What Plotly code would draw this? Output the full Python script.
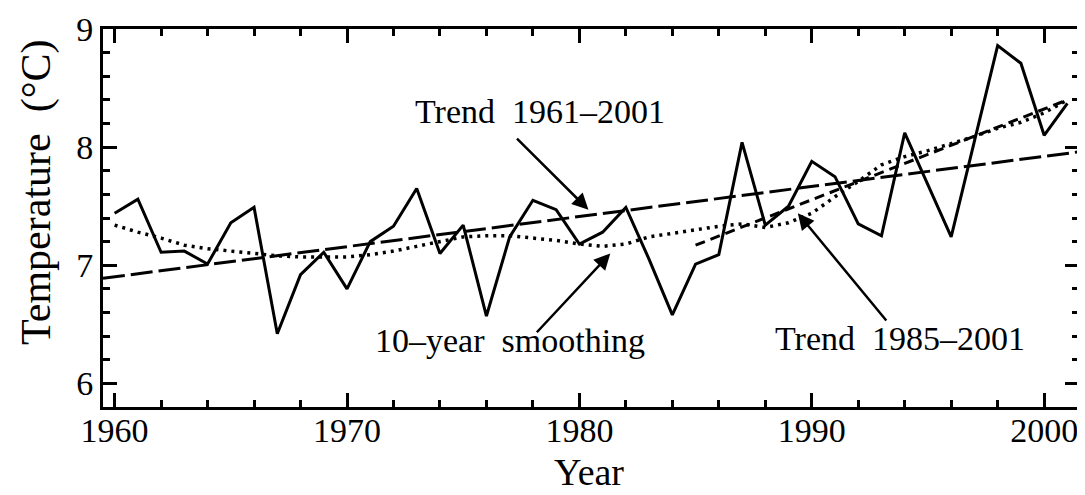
import plotly.graph_objects as go

years = list(range(1960, 2002))
temps = [7.44, 7.56, 7.11, 7.12, 7.01, 7.36, 7.49, 6.42, 6.92, 7.11,
         6.80, 7.20, 7.33, 7.65, 7.10, 7.34, 6.57, 7.24, 7.55, 7.47,
         7.18, 7.28, 7.49, 7.05, 6.58, 7.01, 7.09, 8.04, 7.34, 7.50,
         7.88, 7.75, 7.35, 7.25, 8.12, 7.68, 7.24, 8.05, 8.86, 8.71,
         8.10, 8.37]
smooth = [7.34, 7.28, 7.23, 7.17, 7.14, 7.12, 7.10, 7.08, 7.07, 7.07,
          7.07, 7.09, 7.12, 7.16, 7.20, 7.24, 7.25, 7.25, 7.23, 7.21,
          7.18, 7.16, 7.18, 7.24, 7.27, 7.30, 7.33, 7.35, 7.32, 7.36,
          7.44, 7.58, 7.71, 7.85, 7.92, 7.97, 8.03, 8.09, 8.16, 8.21,
          8.29, 8.40]
trend_long_years = [1959.5, 2001.5]
trend_long_vals = [6.89, 7.96]
trend_short_years = [1985, 2001]
trend_short_vals = [7.17, 8.40]

FONT = "Liberation Serif"

fig = go.Figure()
fig.add_trace(go.Scatter(x=trend_long_years, y=trend_long_vals, mode="lines",
                         line=dict(color="black", width=3, dash="22px,6px")))
fig.add_trace(go.Scatter(x=trend_short_years, y=trend_short_vals, mode="lines",
                         line=dict(color="black", width=3, dash="10px,6px")))
fig.add_trace(go.Scatter(x=years, y=smooth, mode="lines",
                         line=dict(color="black", width=3.5, dash="3px,5px")))
fig.add_trace(go.Scatter(x=years, y=temps, mode="lines",
                         line=dict(color="black", width=3)))

def arrow(x, y, ax, ay):
    fig.add_annotation(x=x, y=y, ax=ax, ay=ay, xref="x", yref="y",
                       axref="x", ayref="y", text="", showarrow=True,
                       arrowhead=2, arrowsize=1.3, arrowwidth=2.5,
                       arrowcolor="black")

arrow(1980.39, 7.47, 1977.25, 8.085)
arrow(1981.33, 7.10, 1978.11, 6.42)
arrow(1989.40, 7.44, 1993.26, 6.52)

def label(text, x, y):
    fig.add_annotation(x=x, y=y, xref="x", yref="y", text=text,
                       showarrow=False, font=dict(family=FONT, size=34, color="black"),
                       xanchor="center", yanchor="middle")

label("Trend\u00a0 1961–2001", 1978.3, 8.30)
label("10–year\u00a0 smoothing", 1977.0, 6.36)
label("Trend\u00a0 1985–2001", 1993.8, 6.38)

# axis titles placed as annotations
fig.add_annotation(x=-0.0684, y=0.567, xref="paper", yref="paper",
                   text="Temperature\u00a0 (°C)", textangle=-90, showarrow=False,
                   font=dict(family=FONT, size=42, color="black"),
                   xanchor="center", yanchor="middle")
fig.add_annotation(x=0.4975, y=-0.172, xref="paper", yref="paper",
                   text="Year", showarrow=False,
                   font=dict(family=FONT, size=38, color="black"),
                   xanchor="center", yanchor="middle")

axis_common = dict(showline=True, linewidth=3, linecolor="black", mirror="ticks",
                   ticks="inside", tickwidth=3, tickcolor="black", showgrid=False,
                   zeroline=False, tickfont=dict(family=FONT, size=34, color="black"))

fig.update_xaxes(range=[1959.5, 2001.5], tick0=1960, dtick=10, ticklen=14,
                 ticklabelstandoff=-9,
                 minor=dict(dtick=2, tick0=1960, ticklen=7, ticks="inside",
                            tickwidth=2.5, tickcolor="black", showgrid=False),
                 **axis_common)
fig.update_yaxes(range=[5.8, 9.0], tick0=6, dtick=1, ticklen=14,
                 minor=dict(dtick=0.2, tick0=6, ticklen=7, ticks="inside",
                            tickwidth=2.5, tickcolor="black", showgrid=False),
                 **axis_common)

fig.update_layout(width=1077, height=487, showlegend=False,
                  plot_bgcolor="white", paper_bgcolor="white",
                  margin=dict(l=95, r=3, t=20, b=88))

fig.write_html("out.html")
